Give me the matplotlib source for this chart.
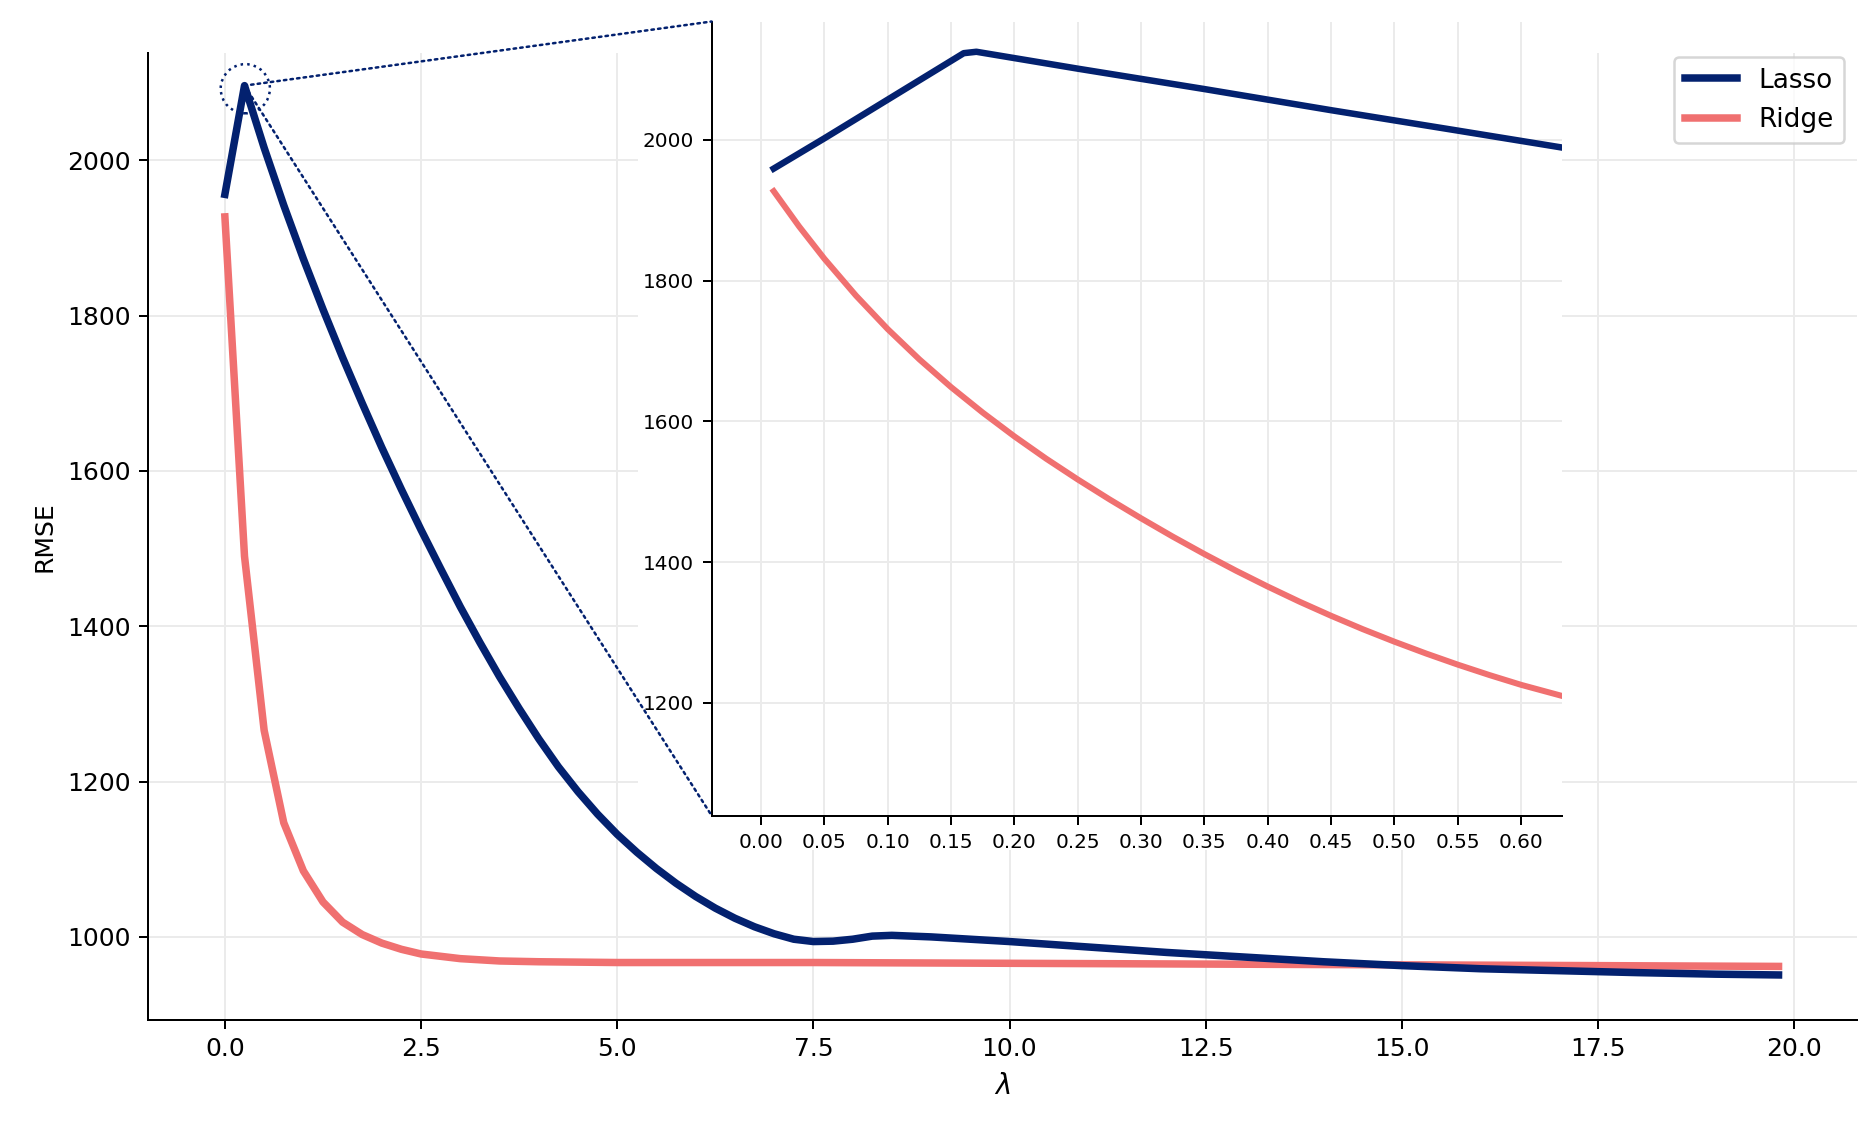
import matplotlib
matplotlib.use("Agg")
import matplotlib.pyplot as plt
from matplotlib.patches import Ellipse, Rectangle, ConnectionPatch

# ---------------- data ----------------
lam_lasso = [0.0, 0.25, 0.5, 0.75, 1.0, 1.25, 1.5, 1.75, 2.0, 2.25, 2.5, 2.75, 3.0,
             3.25, 3.5, 3.75, 4.0, 4.25, 4.5, 4.75, 5.0, 5.25, 5.5, 5.75, 6.0, 6.25,
             6.5, 6.75, 7.0, 7.25, 7.5, 7.75, 8.0, 8.25, 8.5, 8.75, 9.0, 10.0, 11.0,
             12.0, 13.0, 14.0, 15.0, 16.0, 17.0, 18.0, 19.0, 19.8]
rmse_lasso = [1956, 2096, 2016, 1942, 1873, 1808, 1746, 1687, 1630, 1576, 1524, 1474, 1425,
              1379, 1335, 1294, 1255, 1219, 1187, 1158, 1132, 1109, 1088, 1069, 1052, 1037,
              1024, 1013, 1004, 997, 994, 994.5, 997, 1001, 1002, 1001, 1000, 994, 987,
              980, 974, 968, 963, 959, 956.5, 954, 952, 951]

lam_ridge = [0.0, 0.25, 0.5, 0.75, 1.0, 1.25, 1.5, 1.75, 2.0, 2.25, 2.5, 2.75, 3.0, 3.5,
             4.0, 5.0, 7.5, 10.0, 12.5, 15.0, 17.5, 19.8]
rmse_ridge = [1927, 1490, 1266, 1147, 1085, 1045, 1019, 1003, 992, 984, 978, 975, 972, 969,
              968, 967, 967, 966, 965, 964, 963, 962]

# zoomed-in region (inset)
lam_lasso_zoom = [0.01, 0.05, 0.10, 0.16, 0.17, 0.25, 0.35, 0.45, 0.55, 0.632]
rmse_lasso_zoom = [1959, 2002, 2057, 2123, 2125, 2101, 2072, 2042, 2013, 1989]

lam_ridge_zoom = [0.01, 0.03, 0.05, 0.075, 0.10, 0.125, 0.15, 0.175, 0.20, 0.225, 0.25,
                  0.275, 0.30, 0.325, 0.35, 0.375, 0.40, 0.425, 0.45, 0.475, 0.50, 0.525,
                  0.55, 0.575, 0.60, 0.632]
rmse_ridge_zoom = [1927, 1877, 1831, 1778.5, 1731, 1688, 1648.6, 1612.4, 1578.6, 1547,
                   1517.4, 1489.2, 1462.2, 1436.2, 1411.4, 1387.7, 1365.2, 1343.8, 1323.7,
                   1304.7, 1286.9, 1270.1, 1254.3, 1239.5, 1225.6, 1210]

main_xticks = [0.0, 2.5, 5.0, 7.5, 10.0, 12.5, 15.0, 17.5, 20.0]
main_yticks = [1000, 1200, 1400, 1600, 1800, 2000]
zoom_xticks = [0.00, 0.05, 0.10, 0.15, 0.20, 0.25, 0.30, 0.35, 0.40, 0.45, 0.50, 0.55, 0.60]
zoom_yticks = [1200, 1400, 1600, 1800, 2000]

peak_lam, peak_rmse = 0.25, 2096

# ---------------- style ----------------
C_LASSO = "#03216f"
C_RIDGE = "#f07070"
GRID = "#ebebeb"

W, H, DPI = 1876, 1134, 180
fig = plt.figure(figsize=(W / DPI, H / DPI), dpi=DPI)

ax = fig.add_axes([148 / W, 1 - 1020 / H, (1857 - 148) / W, (1020 - 53) / H])
ax.set_zorder(0)
ax.plot(lam_lasso, rmse_lasso, color=C_LASSO, lw=3.0, label="Lasso", zorder=3)
ax.plot(lam_ridge, rmse_ridge, color=C_RIDGE, lw=3.0, label="Ridge", zorder=2)
ax.set_xticks(main_xticks)
ax.set_yticks(main_yticks)
ax.tick_params(labelsize=10)
ax.grid(True, color=GRID, lw=0.8)
ax.set_axisbelow(True)
for s in ("top", "right"):
    ax.spines[s].set_visible(False)
ax.set_xlabel(r"$\lambda$", fontsize=11)
ax.set_ylabel("RMSE", fontsize=10)
leg = ax.legend(loc="upper right", bbox_to_anchor=(1.0, 1.0093), fontsize=10.5,
                frameon=True, fancybox=True)
leg.get_frame().set_edgecolor("#cccccc")

# white backdrop behind inset: hides the main grid but not the main curves
bg = Rectangle((638 / W, 1 - 850 / H), (1562 - 638) / W, 850 / H,
               transform=fig.transFigure, facecolor="white", edgecolor="none", zorder=1)
ax.add_artist(bg)

# dotted circle around the peak
ax.add_patch(Ellipse((peak_lam + 0.01, 2092), width=0.627, height=63.3, fill=False,
                     ec=C_LASSO, ls=":", lw=1.0, zorder=5))
ax.set_xlim(-0.98, 20.8)
ax.set_ylim(893, 2138)

# inset
axins = fig.add_axes([711.6 / W, 1 - 815.5 / H, (1561.7 - 711.6) / W, (815.5 - 21.5) / H])
axins.set_zorder(2)
axins.plot(lam_lasso_zoom, rmse_lasso_zoom, color=C_LASSO, lw=2.6, zorder=3)
axins.plot(lam_ridge_zoom, rmse_ridge_zoom, color=C_RIDGE, lw=2.4, zorder=2)
axins.set_xticks(zoom_xticks)
axins.set_xticklabels([f"{t:.2f}" for t in zoom_xticks])
axins.set_yticks(zoom_yticks)
axins.set_xlim(-0.039, 0.632)
axins.set_ylim(1040, 2168)
axins.tick_params(labelsize=8)
axins.grid(True, color=GRID, lw=0.8)
axins.set_axisbelow(True)
for s in ("top", "right"):
    axins.spines[s].set_visible(False)

# connector lines
for corner in [(0, 1), (0, 0)]:
    con = ConnectionPatch(xyA=(peak_lam, peak_rmse), coordsA=ax.transData,
                          xyB=corner, coordsB=axins.transAxes,
                          color=C_LASSO, ls=":", lw=1.0, zorder=4)
    fig.add_artist(con)

fig.savefig("out.png", dpi=DPI)
